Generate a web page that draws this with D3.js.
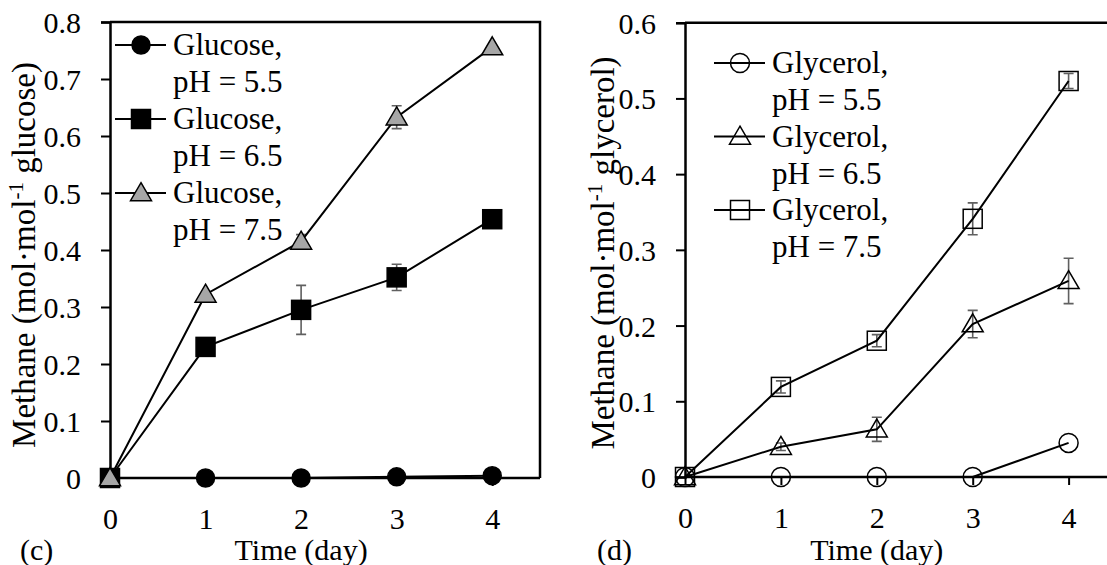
<!DOCTYPE html>
<html>
<head>
<meta charset="utf-8">
<script src="https://cdn.jsdelivr.net/npm/d3@7"></script>
<style>
  body{margin:0;background:#fff;}
</style>
</head>
<body>
<script>
// days on the x axis
const days = [0, 1, 2, 3, 4];

// panel (c) glucose
const glucose55 = [0, 0, 0, 0.002, 0.004];
const glucose65 = [0, 0.230, 0.295, 0.352, 0.454];
const glucose65Err = [0, 0, 0.043, 0.023, 0];
const glucose75 = [0, 0.322, 0.415, 0.633, 0.756];
const glucose75Err = [0, 0, 0.012, 0.02, 0];

// panel (d) glycerol
const glycerol55 = [0, 0, 0, 0, 0.045];
const glycerol65 = [0, 0.040, 0.063, 0.202, 0.259];
const glycerol65Err = [0, 0.005, 0.016, 0.018, 0.03];
const glycerol75 = [0, 0.119, 0.180, 0.341, 0.523];
const glycerol75Err = [0, 0.008, 0.008, 0.021, 0.01];

const leftTicks = [0, 0.1, 0.2, 0.3, 0.4, 0.5, 0.6, 0.7, 0.8];
const rightTicks = [0, 0.1, 0.2, 0.3, 0.4, 0.5, 0.6];

const W = 1107, H = 565;
const FONT = "'Liberation Serif', 'Times New Roman', Times, 'DejaVu Serif', serif";
const svg = d3.select("body").append("svg").attr("width", W).attr("height", H)
  .style("font-family", FONT);

const fs = 30;

function marker(g, shape, fill, x, y, s) {
  if (shape == "circle") {
    g.append("circle").attr("cx", x).attr("cy", y).attr("r", s / 2)
      .attr("fill", fill).attr("stroke", "#000").attr("stroke-width", 1.5);
  } else if (shape == "square") {
    g.append("rect").attr("x", x - s / 2).attr("y", y - s / 2).attr("width", s).attr("height", s)
      .attr("fill", fill).attr("stroke", "#000").attr("stroke-width", 1.5);
  } else {
    const h = s * 0.9;
    g.append("path")
      .attr("d", `M${x},${y - h * 0.6}L${x + s / 2 + 1},${y + h * 0.45}L${x - s / 2 - 1},${y + h * 0.45}Z`)
      .attr("fill", fill).attr("stroke", "#000").attr("stroke-width", 1.5);
  }
}

function txt(g) {
  return g.append("text").style("font-family", FONT).attr("font-size", fs).attr("fill", "#000");
}

function panel(opt) {
  const x = d3.scaleLinear().domain([0, opt.xmax]).range([opt.x0, opt.x1]);
  const y = d3.scaleLinear().domain([0, opt.ymax]).range([opt.y0, opt.y1]);
  const g = svg.append("g");

  // frame lines
  if (opt.frame) {
    g.append("path")
      .attr("d", `M${opt.x0},${opt.y1}H${opt.x1}V${opt.y0}`)
      .attr("fill", "none").attr("stroke", "#000").attr("stroke-width", 2.5);
  } else {
    g.append("line").attr("x1", opt.x0).attr("x2", opt.topEnd)
      .attr("y1", opt.y1).attr("y2", opt.y1)
      .attr("stroke", "#000").attr("stroke-width", 2.5);
  }

  const yAxis = d3.axisLeft(y).tickValues(opt.yticks).tickSize(9).tickPadding(20)
    .tickFormat(d => d == 0 ? "0" : d3.format(".1f")(d));
  const ya = g.append("g").attr("transform", `translate(${opt.x0},0)`).call(yAxis);
  ya.select(".domain").attr("stroke-width", 2.5);
  ya.selectAll(".tick line").attr("stroke-width", 2);
  ya.selectAll("text").attr("font-size", fs).style("font-family", FONT).attr("fill", "#000").attr("dy", "0.35em");

  const xAxis = d3.axisBottom(x).tickValues(days).tickSize(8).tickPadding(22).tickSizeOuter(0)
    .tickFormat(d3.format("d"));
  const xa = g.append("g").attr("transform", `translate(0,${opt.y0})`).call(xAxis);
  xa.select(".domain").attr("stroke-width", 2.5).attr("d", `M${opt.x0},0H${opt.xEnd}`);
  xa.selectAll(".tick line").attr("stroke-width", 2);
  xa.selectAll("text").attr("font-size", fs).style("font-family", FONT).attr("fill", "#000");

  const line = d3.line().x((d, i) => x(days[i])).y(d => y(d));

  opt.series.forEach(s => {
    // error bars
    if (s.err) {
      s.values.forEach((v, i) => {
        const e = s.err[i];
        if (!e) return;
        const cx = x(days[i]);
        g.append("path")
          .attr("d", `M${cx},${y(v - e)}V${y(v + e)}M${cx - 5},${y(v - e)}H${cx + 5}M${cx - 5},${y(v + e)}H${cx + 5}`)
          .attr("stroke", "#606060").attr("stroke-width", 1.6).attr("fill", "none");
      });
    }
    g.append("path").datum(s.values).attr("d", line)
      .attr("fill", "none").attr("stroke", "#000").attr("stroke-width", 2);
  });
  opt.series.forEach(s => {
    s.values.forEach((v, i) => marker(g, s.shape, s.fill, x(days[i]), y(v), s.size));
  });

  // legend
  opt.series.forEach((s, k) => {
    const ly = opt.legY + k * opt.legStep;
    g.append("line").attr("x1", opt.legX).attr("x2", opt.legX + 51)
      .attr("y1", ly).attr("y2", ly).attr("stroke", "#000").attr("stroke-width", 2);
    marker(g, s.shape, s.fill, opt.legX + 26, ly, s.size);
    const t = txt(g).attr("font-size", 31);
    t.append("tspan").attr("x", opt.legX + 58).attr("y", ly + 10).text(s.name + ",");
    t.append("tspan").attr("x", opt.legX + 58).attr("y", ly + 47).text(s.ph);
  });

  // axis titles
  const yt = txt(g).attr("font-size", 33).attr("text-anchor", "middle")
    .attr("transform", `translate(${opt.ytX},${opt.ytY}) rotate(-90)`);
  yt.append("tspan").text("Methane  (mol·mol");
  yt.append("tspan").attr("font-size", 21).attr("dy", -12).text("-1");
  yt.append("tspan").attr("dy", 12).text(" " + opt.unit + ")");

  txt(g).attr("text-anchor", "middle").attr("x", x(2)).attr("y", 560).text("Time (day)");
  txt(g).attr("x", opt.labX).attr("y", 560).text(opt.label);
}

panel({
  x0: 110, x1: 540, xEnd: 540, xmax: 4.5, y0: 478, y1: 22, ymax: 0.8, frame: true,
  yticks: leftTicks, legX: 115, legY: 45, legStep: 74, ytX: 35, ytY: 255, unit: "glucose",
  labX: 20, label: "(c)",
  series: [
    {name: "Glucose", ph: "pH = 5.5", values: glucose55, shape: "circle", fill: "#000", size: 18},
    {name: "Glucose", ph: "pH = 6.5", values: glucose65, err: glucose65Err, shape: "square", fill: "#000", size: 19},
    {name: "Glucose", ph: "pH = 7.5", values: glucose75, err: glucose75Err, shape: "triangle", fill: "#a6a6a6", size: 19}
  ]
});

panel({
  x0: 685, x1: 1068.6, xEnd: 1107, xmax: 4, y0: 477, y1: 22.7, ymax: 0.6, frame: false, topEnd: 1107,
  yticks: rightTicks, legX: 714, legY: 63, legStep: 73.5, ytX: 614, ytY: 253, unit: "glycerol",
  labX: 597, label: "(d)",
  series: [
    {name: "Glycerol", ph: "pH = 5.5", values: glycerol55, shape: "circle", fill: "none", size: 19},
    {name: "Glycerol", ph: "pH = 6.5", values: glycerol65, err: glycerol65Err, shape: "triangle", fill: "none", size: 19},
    {name: "Glycerol", ph: "pH = 7.5", values: glycerol75, err: glycerol75Err, shape: "square", fill: "none", size: 19}
  ]
});
</script>
</body>
</html>
